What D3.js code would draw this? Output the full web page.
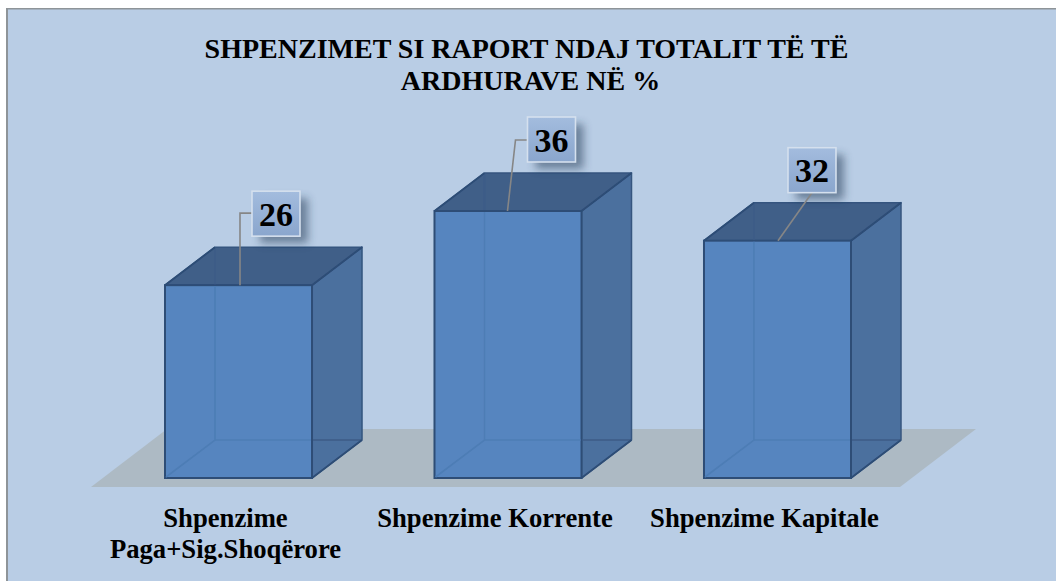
<!DOCTYPE html>
<html>
<head>
<meta charset="utf-8">
<script src="https://cdn.jsdelivr.net/npm/d3@7"></script>
<style>
	html, body { margin: 0; padding: 0; background: #fff; overflow: hidden; }
	svg { display: block; }
	text { font-family: "Liberation Serif", serif; font-weight: bold; fill: #000; }
</style>
</head>
<body>
<svg id="chart" width="1056" height="581"></svg>
<script>
var categories = ["Shpenzime Paga+Sig.Shoqërore", "Shpenzime Korrente", "Shpenzime Kapitale"];
var categoryLines = [["Shpenzime", "Paga+Sig.Shoqërore"], ["Shpenzime Korrente"], ["Shpenzime Kapitale"]];
var values = [26, 36, 32];
var titleLines = ["SHPENZIMET SI RAPORT NDAJ TOTALIT TË TË", "ARDHURAVE NË %"];

var width = 1056;
var height = 581;
var depthX = 50;
var depthY = 38;

var svg = d3.select("#chart");
var defs = svg.append("defs");

var x = d3.scaleBand()
	.domain(categories)
	.range([165, 851])
	.paddingInner(0.4545)
	.paddingOuter(0);

var y = d3.scaleLinear()
	.domain([0, 36])
	.range([478, 211]);

// gradient for the value boxes
var boxGrad = defs.append("linearGradient")
	.attr("id", "boxGrad")
	.attr("x1", 0).attr("y1", 0).attr("x2", 0).attr("y2", 1);
boxGrad.append("stop").attr("offset", 0).attr("stop-color", "#a3bcde");
boxGrad.append("stop").attr("offset", 1).attr("stop-color", "#8aa6cd");

var shadow = defs.append("filter")
	.attr("id", "boxShadow")
	.attr("x", "-50%").attr("y", "-50%").attr("width", "200%").attr("height", "200%");
shadow.append("feGaussianBlur").attr("stdDeviation", 4.5);

var soft = defs.append("filter").attr("id", "soft");
soft.append("feGaussianBlur").attr("stdDeviation", 0.4);

// panel, its right and bottom edges run off the page
svg.append("rect")
	.attr("x", 6).attr("y", 8)
	.attr("width", width).attr("height", height)
	.attr("fill", "#8e9498");
svg.append("rect")
	.attr("x", 8).attr("y", 9.5)
	.attr("width", width).attr("height", height)
	.attr("fill", "#b9cde5");

// floor
var floorBase = y(0);
svg.append("polygon")
	.attr("points", [
		[91, floorBase + 9],
		[167, floorBase - 49],
		[976, floorBase - 49],
		[900, floorBase + 9]
	].join(" "))
	.attr("fill", "#adbac4");

// title
svg.append("text")
	.attr("text-anchor", "middle")
	.attr("font-size", 28)
	.selectAll("tspan")
	.data(titleLines)
	.enter()
	.append("tspan")
	.attr("x", (d, i) => i === 0 ? 526.5 : 530.5)
	.attr("y", (d, i) => 58 + i * 32)
	.text(d => d);

var edge = "#2d4d76";

var bars = svg.selectAll(".bar")
	.data(categories)
	.enter()
	.append("g")
	.classed("bar", true);

bars.each(function (d, i) {
	var g = d3.select(this).append("g").attr("filter", "url(#soft)");
	var x0 = x(d);
	var x1 = x0 + x.bandwidth();
	var yTop = y(values[i]);
	var yBot = y(0);

	// side
	g.append("polygon")
		.attr("points", [[x1, yTop], [x1 + depthX, yTop - depthY], [x1 + depthX, yBot - depthY], [x1, yBot]].join(" "))
		.attr("fill", "#4c6f9e")
		.attr("stroke", "#34557f")
		.attr("stroke-width", 1.5)
		.attr("stroke-linejoin", "round");

	// top
	g.append("polygon")
		.attr("points", [[x0, yTop], [x0 + depthX, yTop - depthY], [x1 + depthX, yTop - depthY], [x1, yTop]].join(" "))
		.attr("fill", "#405e88")
		.attr("stroke", "#34557f")
		.attr("stroke-width", 1.5)
		.attr("stroke-linejoin", "round");

	// front
	g.append("rect")
		.attr("x", x0).attr("y", yTop)
		.attr("width", x.bandwidth()).attr("height", yBot - yTop)
		.attr("fill", "#5785bf")
		.attr("stroke", edge)
		.attr("stroke-width", 2);

	// back edges seen through the faces
	g.append("path")
		.attr("d", `M${x0 + 1},${yBot - 1}L${x0 + depthX},${yBot - depthY}L${x1 - 1},${yBot - depthY}M${x0 + depthX},${yBot - depthY}L${x0 + depthX},${yTop + 1}`)
		.attr("fill", "none")
		.attr("stroke", "#4d7db5")
		.attr("stroke-width", 1.6);
	g.append("path")
		.attr("d", `M${x1 + 1},${yBot - depthY}L${x1 + depthX},${yBot - depthY}M${x0 + depthX},${yTop - 1}L${x0 + depthX},${yTop - depthY}`)
		.attr("fill", "none")
		.attr("stroke", "#3c5c87")
		.attr("stroke-width", 1.6);
	// front edges of the top and side faces
	g.append("path")
		.attr("d", `M${x0},${yTop}L${x0 + depthX},${yTop - depthY}M${x1},${yTop}L${x1 + depthX},${yTop - depthY}M${x1},${yBot}L${x1 + depthX},${yBot - depthY}`)
		.attr("fill", "none")
		.attr("stroke", edge)
		.attr("stroke-width", 1.8);
});

// value boxes, placed relative to each bar's top
var labelDx = [87, 93, 84];
var labelDy = [-94, -94, -93];
var leaderStart = [75, 73, 74];
var leaderElbow = [[0, -72], [8, -71], null];

bars.each(function (d, i) {
	var g = d3.select(this);
	var yTop = y(values[i]);
	var bx = x(d) + labelDx[i];
	var by = yTop + labelDy[i];
	var bw = 48;
	var bh = 45;
	var sx = x(d) + leaderStart[i];

	var pts = [[sx, yTop]];
	if (leaderElbow[i]) {
		pts.push([sx + leaderElbow[i][0], yTop + leaderElbow[i][1]]);
		pts.push([bx, yTop + leaderElbow[i][1]]);
	} else {
		pts.push([bx + bw / 2, by + bh]);
	}

	g.append("rect")
		.attr("x", bx + 8).attr("y", by + 7)
		.attr("width", bw).attr("height", bh)
		.attr("fill", "#1f3550")
		.attr("opacity", 0.5)
		.attr("filter", "url(#boxShadow)");

	g.append("path")
		.attr("d", d3.line()(pts))
		.attr("fill", "none")
		.attr("stroke", "#868686")
		.attr("stroke-width", 1.6);

	g.append("rect")
		.attr("x", bx).attr("y", by)
		.attr("width", bw).attr("height", bh)
		.attr("fill", "url(#boxGrad)")
		.attr("stroke", "#d5e0ee")
		.attr("stroke-width", 1.6);

	g.append("text")
		.attr("x", bx + bw / 2)
		.attr("y", by + bh / 2 + 12)
		.attr("text-anchor", "middle")
		.attr("font-size", 34)
		.text(values[i]);
});

// category labels
var axisLabels = svg.selectAll(".cat")
	.data(categories)
	.enter()
	.append("text")
	.classed("cat", true)
	.attr("text-anchor", "middle")
	.attr("font-size", 26.67);

axisLabels.each(function (d, i) {
	d3.select(this).selectAll("tspan")
		.data(categoryLines[i])
		.enter()
		.append("tspan")
		.attr("x", x(d) + x.bandwidth() / 2 - 13)
		.attr("y", (t, j) => 527 + j * 31)
		.text(t => t);
});
</script>
</body>
</html>
